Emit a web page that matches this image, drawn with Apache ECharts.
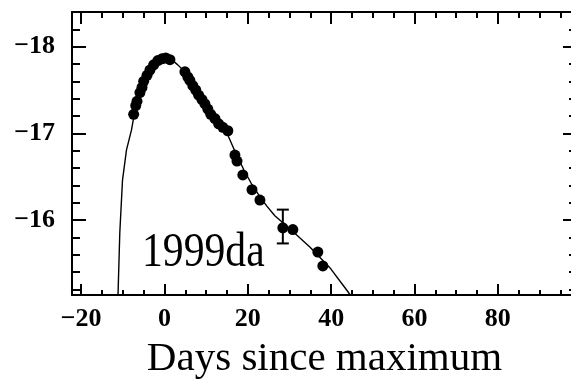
<!DOCTYPE html>
<html><head><meta charset="utf-8">
<script src="https://cdn.jsdelivr.net/npm/echarts@6/dist/echarts.min.js"></script>
<style>html,body{margin:0;padding:0;background:#fff}#c{width:571px;height:380px}</style>
</head><body><div id="c"></div>
<script>
// Observed photometry (days since maximum, absolute magnitude)
const obsDays = [-7.4,-6.9,-6.6,-5.9,-5.4,-5.0,-4.2,-3.5,-2.6,-1.6,-0.6,0.3,1.3,
  4.9,5.6,6.1,6.8,7.5,8.2,9.0,9.7,10.4,11.1,12.1,13.0,14.0,15.2,16.9,17.4,18.8,21.0,22.9,30.8,36.8,38.0];
const obsMags = [-17.22,-17.32,-17.37,-17.47,-17.53,-17.60,-17.67,-17.73,-17.79,-17.84,-17.86,-17.87,-17.85,
  -17.71,-17.65,-17.61,-17.55,-17.50,-17.44,-17.39,-17.34,-17.28,-17.22,-17.17,-17.11,-17.07,-17.03,-16.75,-16.68,-16.52,-16.35,-16.23,-15.89,-15.63,-15.47];
// Point with error bar
const errDays = [28.4];
const errMags = [-15.91];
const errLow = [-16.12];
const errHigh = [-15.73];
// Model light curve
const curveDays = [-11.35,-11.14,-10.73,-10.08,-9.12,-7.92,-6.89,-5.69,-4.25,-2.81,-1.13,0.31,1.75,3.19,4.87,8.47,12.07,15.19,17.11,19.04,20.96,22.88,24.56,26.48,30.08,34.88,39.68,43.76,44.96];
const curveMags = [-15.03,-15.16,-15.85,-16.46,-16.81,-17.04,-17.32,-17.51,-17.67,-17.78,-17.86,-17.88,-17.85,-17.79,-17.71,-17.47,-17.21,-16.98,-16.77,-16.58,-16.41,-16.27,-16.16,-16.05,-15.90,-15.69,-15.45,-15.19,-15.11];
// Ticks
const xTickLabels = [-20,0,20,40,60,80];
const xMinorTicks = [-20,-15,-10,-5,0,5,10,15,20,25,30,35,40,45,50,55,60,65,70,75,80,85,90,95];
const yTickLabels = [-18,-17,-16];
const yMinorTicks = [-18.4,-18.2,-18.0,-17.8,-17.6,-17.4,-17.2,-17.0,-16.8,-16.6,-16.4,-16.2,-16.0,-15.8,-15.6,-15.4,-15.2];
const xTitle = 'Days since maximum';
const snName = '1999da';

const X_MIN = -22.2, X_MAX = 99, Y_MIN = -18.4, Y_MAX = -15.135;
const fmt = v => (v < 0 ? '\u2212' + Math.abs(v) : String(v));
const lblFont = {fontFamily:'Liberation Serif', fontWeight:'bold', fontSize:26, color:'#000'};

function xAx(pos, vals, len, withLabel) {
  const a = {type:'value', position:pos, min:X_MIN, max:X_MAX, gridIndex:0,
    axisLine:{show:withLabel!==null, onZero:false, lineStyle:{color:'#000', width:2}},
    axisTick:{show:true, inside:true, length:len, customValues:vals, lineStyle:{color:'#000', width:2}},
    axisLabel:{show:false}, splitLine:{show:false}, minorTick:{show:false}};
  if (withLabel === true) {
    a.axisLabel = Object.assign({show:true, customValues:xTickLabels, formatter:fmt, margin:11}, lblFont);
    a.name = xTitle; a.nameLocation = 'middle'; a.nameGap = 44;
    a.nameTextStyle = {fontFamily:'Liberation Serif', fontSize:41, color:'#000'};
  }
  return a;
}
function yAx(pos, vals, len, withLabel) {
  const a = {type:'value', position:pos, min:Y_MIN, max:Y_MAX, inverse:true, gridIndex:0,
    axisLine:{show:withLabel!==null, onZero:false, lineStyle:{color:'#000', width:2}},
    axisTick:{show:true, inside:true, length:len, customValues:vals, lineStyle:{color:'#000', width:2}},
    axisLabel:{show:false}, splitLine:{show:false}, minorTick:{show:false}};
  if (withLabel === true) {
    a.axisLabel = Object.assign({show:true, customValues:yTickLabels, formatter:fmt, margin:17}, lblFont);
  }
  return a;
}

const chart = echarts.init(document.getElementById('c'), null, {renderer:'canvas'});
chart.setOption({
  animation:false,
  backgroundColor:'#fff',
  grid:{left:72, top:12, width:505, height:283, containLabel:false, outerBoundsMode:'none'},
  xAxis:[
    xAx('bottom', xTickLabels, 11, true),
    xAx('bottom', xMinorTicks, 5, null),
    xAx('top', xTickLabels, 12, false),
    xAx('top', xMinorTicks, 6, null)
  ],
  yAxis:[
    yAx('left', yTickLabels, 14, true),
    yAx('left', yMinorTicks, 8, null),
    yAx('right', yTickLabels, 14, false),
    yAx('right', yMinorTicks, 8, null)
  ],
  graphic:[{type:'text', left:142, top:229, scaleX:0.85,
    style:{text:snName, font:'49px "Liberation Serif"', fill:'#000'}}],
  series:[
    {type:'line', xAxisIndex:0, yAxisIndex:0, showSymbol:false, smooth:false,
     lineStyle:{color:'#000', width:1.4}, data:curveDays.map((d,i)=>[d,curveMags[i]]), z:2},
    {type:'scatter', xAxisIndex:0, yAxisIndex:0, symbol:'circle', symbolSize:11,
     itemStyle:{color:'#000', opacity:1}, data:obsDays.map((d,i)=>[d,obsMags[i]]), z:3},
    {type:'scatter', xAxisIndex:0, yAxisIndex:0, symbol:'circle', symbolSize:11,
     itemStyle:{color:'#000', opacity:1}, data:errDays.map((d,i)=>[d,errMags[i]]), z:3},
    {type:'custom', xAxisIndex:0, yAxisIndex:0, z:3,
     data:errDays.map((d,i)=>[d,errLow[i],errHigh[i]]),
     renderItem:(params, api) => {
       const lo = api.coord([api.value(0), api.value(1)]);
       const hi = api.coord([api.value(0), api.value(2)]);
       const w = 6;
       const st = {stroke:'#000', lineWidth:2, opacity:1};
       return {type:'group', children:[
         {type:'line', shape:{x1:lo[0], y1:lo[1], x2:hi[0], y2:hi[1]}, style:st},
         {type:'line', shape:{x1:lo[0]-w, y1:lo[1], x2:lo[0]+w, y2:lo[1]}, style:st},
         {type:'line', shape:{x1:hi[0]-w, y1:hi[1], x2:hi[0]+w, y2:hi[1]}, style:st}
       ]};
     }}
  ]
});
</script></body></html>
